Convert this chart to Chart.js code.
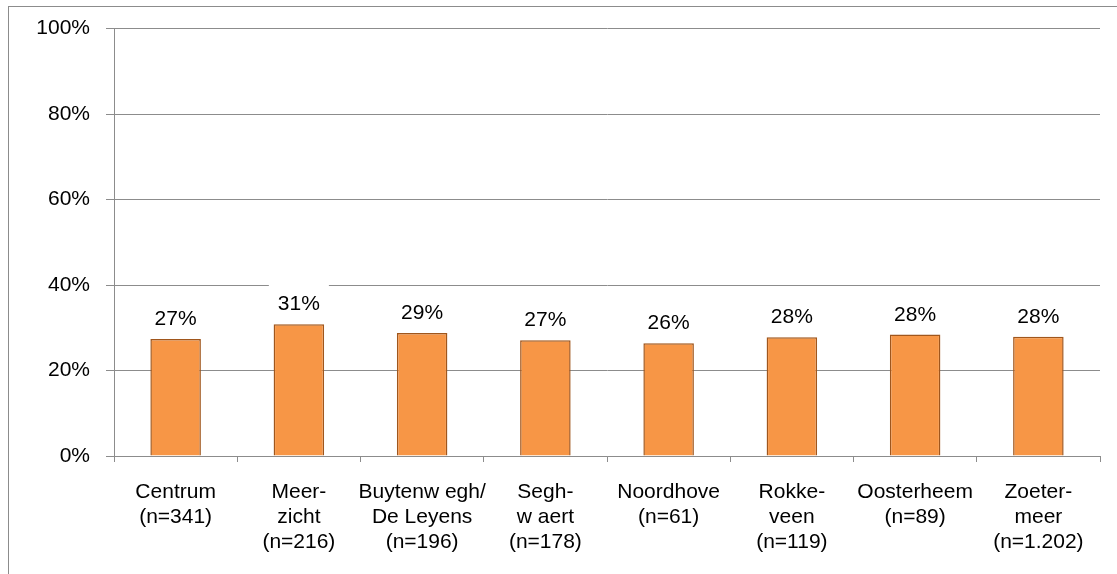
<!DOCTYPE html>
<html>
<head>
<meta charset="utf-8">
<script src="https://cdn.jsdelivr.net/npm/chart.js@4/dist/chart.umd.min.js"></script>
<style>
  body { margin: 0; background: #fff; }
  #wrap { position: relative; width: 1117px; height: 574px; overflow: hidden; }
  #frame { position: absolute; left: 8px; top: 6px; width: 1200px; height: 700px; border: 1px solid #8c8c8c; }
  canvas { position: absolute; left: 0; top: 0; }
</style>
</head>
<body>
<div id="wrap">
  <div id="frame"></div>
  <canvas id="wijkChart" width="1117" height="574"></canvas>
</div>
<script>
const categories = [
  ["Centrum", "(n=341)"],
  ["Meer-", "zicht", "(n=216)"],
  ["Buytenw egh/", "De Leyens", "(n=196)"],
  ["Segh-", "w aert", "(n=178)"],
  ["Noordhove", "(n=61)"],
  ["Rokke-", "veen", "(n=119)"],
  ["Oosterheem", "(n=89)"],
  ["Zoeter-", "meer", "(n=1.202)"]
];
const values = [27.4, 30.8, 28.8, 27.1, 26.4, 27.8, 28.4, 27.9];
const yTicks = [0, 20, 40, 60, 80, 100];

const font = "'Liberation Sans', Arial, sans-serif";

// labels boven de staven, met witte achtergrond (onderbreekt de rasterlijn)
const barLabels = {
  id: "barLabels",
  afterDatasetsDraw(chart) {
    const ctx = chart.ctx;
    const meta = chart.getDatasetMeta(0);
    ctx.save();
    ctx.font = "21px " + font;
    ctx.textAlign = "center";
    ctx.textBaseline = "alphabetic";
    meta.data.forEach(function (bar, i) {
      const txt = Math.round(values[i]) + "%";
      const w = ctx.measureText(txt).width;
      const base = bar.y - 14;
      ctx.fillStyle = "#fff";
      ctx.fillRect(bar.x - w / 2 - 9, base - 27, w + 18, 31);
      ctx.fillStyle = "#000";
      ctx.fillText(txt, bar.x, base);
    });
    ctx.restore();
  }
};

new Chart("wijkChart", {
  type: "bar",
  data: {
    labels: categories,
    datasets: [
      {
        data: values,
        backgroundColor: "#f79646",
        borderColor: "#a0561c",
        borderWidth: 1.5,
        barPercentage: 0.41,
        categoryPercentage: 1
      }
    ]
  },
  options: {
    responsive: false,
    animation: false,
    layout: { padding: { top: 22, right: 17, left: 0, bottom: 0 } },
    plugins: { legend: { display: false }, tooltip: { enabled: false } },
    scales: {
      x: {
        afterFit: function (scale) { scale.height = 118; },
        grid: { drawOnChartArea: false, drawTicks: true, tickLength: 6, color: "#8c8c8c", offset: true },
        border: { color: "#8c8c8c", width: 1 },
        ticks: {
          color: "#000",
          font: { family: font, size: 21, lineHeight: 25 / 21 },
          padding: 18,
          maxRotation: 0,
          autoSkip: false
        }
      },
      y: {
        min: 0,
        max: 100,
        afterFit: function (scale) { scale.width = 114; },
        afterBuildTicks: function (scale) {
          scale.ticks = yTicks.map(function (v) { return { value: v }; });
        },
        grid: { color: "#8c8c8c", lineWidth: 1, tickLength: 8 },
        border: { color: "#8c8c8c", width: 1 },
        ticks: {
          color: "#000",
          font: { family: font, size: 21 },
          padding: 16,
          callback: function (v) { return v + "%"; }
        }
      }
    }
  },
  plugins: [barLabels]
});
</script>
</body>
</html>
